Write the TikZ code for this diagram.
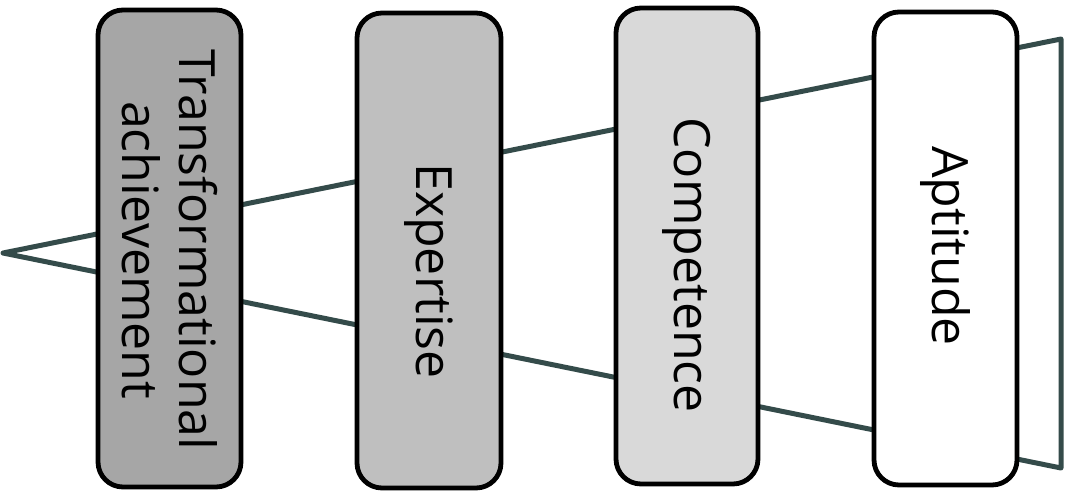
\documentclass[tikz,border=0pt]{standalone}
\usepackage{fontspec}
\setmainfont{Open Sans}
\definecolor{funnel}{HTML}{344B4A}
\definecolor{fillA}{HTML}{A6A6A6}
\definecolor{fillB}{HTML}{BFBFBF}
\definecolor{fillC}{HTML}{D9D9D9}
\tikzset{
  stage/.style={draw=black, line width=4.8pt, rounded corners=25pt},
  stagetext/.style={rotate=-90, align=center, font=\fontsize{50}{57}\selectfont, inner sep=0pt},
  funnelline/.style={draw=funnel, line width=5pt, line join=round, line cap=round}
}
\begin{document}
\begin{tikzpicture}[x=1pt,y=-1pt]
\useasboundingbox (0,0) rectangle (1070,490);
\coordinate (apex) at (3,253);
\coordinate (tr) at (1061,39);
\coordinate (br) at (1061,468);
\draw[funnelline] (apex) -- (tr) -- (br) -- cycle;
\filldraw[stage, fill=fillA] (98,10) rectangle (241,487);
\filldraw[stage, fill=fillB] (357,13) rectangle (501,488);
\filldraw[stage, fill=fillC] (616,8) rectangle (758,484);
\filldraw[stage, fill=white] (874,12) rectangle (1017,485);
\node[stagetext] (t1) at (169.5,250) {Transformational\\achievement};
\node[stagetext] (t2) at (429,271) {Expertise};
\node[stagetext] (t3) at (687,265) {Competence};
\node[stagetext] (t4) at (945.5,246) {Aptitude};
\end{tikzpicture}
\end{document}
